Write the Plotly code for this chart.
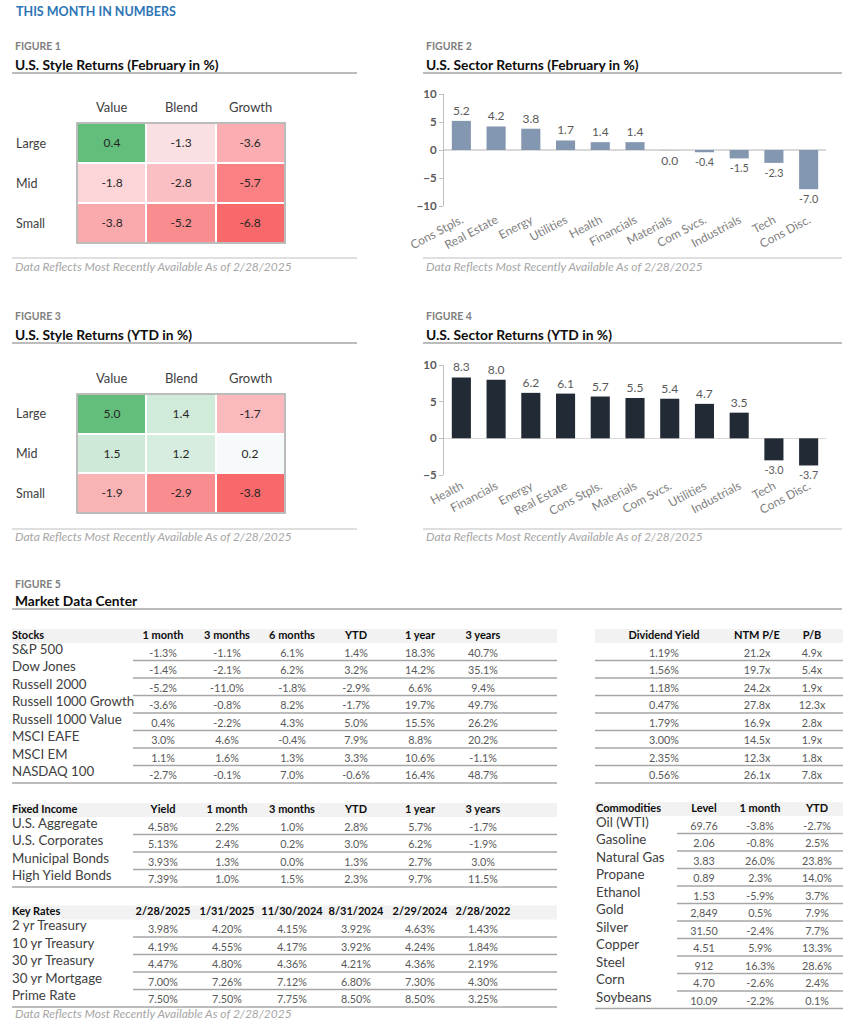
import plotly.graph_objects as go

W, H = 855, 1024
OFF = 0
FONT = "Lato"

# ---------------- data ----------------
style_cols = ["Value", "Blend", "Growth"]
style_rows = ["Large", "Mid", "Small"]
style_feb = [[0.4, -1.3, -3.6], [-1.8, -2.8, -5.7], [-3.8, -5.2, -6.8]]
style_ytd = [[5.0, 1.4, -1.7], [1.5, 1.2, 0.2], [-1.9, -2.9, -3.8]]

sectors_feb = ["Cons Stpls.", "Real Estate", "Energy", "Utilities", "Health", "Financials",
               "Materials", "Com Svcs.", "Industrials", "Tech", "Cons Disc."]
sector_feb_vals = [5.2, 4.2, 3.8, 1.7, 1.4, 1.4, -0.04, -0.4, -1.5, -2.3, -7.0]

sectors_ytd = ["Health", "Financials", "Energy", "Real Estate", "Cons Stpls.", "Materials",
               "Com Svcs.", "Utilities", "Industrials", "Tech", "Cons Disc."]
sector_ytd_vals = [8.3, 8.0, 6.2, 6.1, 5.7, 5.5, 5.4, 4.7, 3.5, -3.0, -3.7]

stock_names = ["S&P 500", "Dow Jones", "Russell 2000", "Russell 1000 Growth",
               "Russell 1000 Value", "MSCI EAFE", "MSCI EM", "NASDAQ 100"]
stock_cols = ["1 month", "3 months", "6 months", "YTD", "1 year", "3 years"]
stock_1m = [-1.3, -1.4, -5.2, -3.6, 0.4, 3.0, 1.1, -2.7]
stock_3m = [-1.1, -2.1, -11.0, -0.8, -2.2, 4.6, 1.6, -0.1]
stock_6m = [6.1, 6.2, -1.8, 8.2, 4.3, -0.4, 1.3, 7.0]
stock_ytd = [1.4, 3.2, -2.9, -1.7, 5.0, 7.9, 3.3, -0.6]
stock_1y = [18.3, 14.2, 6.6, 19.7, 15.5, 8.8, 10.6, 16.4]
stock_3y = [40.7, 35.1, 9.4, 49.7, 26.2, 20.2, -1.1, 48.7]

val_cols = ["Dividend Yield", "NTM P/E", "P/B"]
div_yield = [1.19, 1.56, 1.18, 0.47, 1.79, 3.00, 2.35, 0.56]
ntm_pe = [21.2, 19.7, 24.2, 27.8, 16.9, 14.5, 12.3, 26.1]
p_b = [4.9, 5.4, 1.9, 12.3, 2.8, 1.9, 1.8, 7.8]

fi_names = ["U.S. Aggregate", "U.S. Corporates", "Municipal Bonds", "High Yield Bonds"]
fi_cols = ["Yield", "1 month", "3 months", "YTD", "1 year", "3 years"]
fi_yield = [4.58, 5.13, 3.93, 7.39]
fi_1m = [2.2, 2.4, 1.3, 1.0]
fi_3m = [1.0, 0.2, 0.0, 1.5]
fi_ytd = [2.8, 3.0, 1.3, 2.3]
fi_1y = [5.7, 6.2, 2.7, 9.7]
fi_3y = [-1.7, -1.9, 3.0, 11.5]

rate_names = ["2 yr Treasury", "10 yr Treasury", "30 yr Treasury", "30 yr Mortgage", "Prime Rate"]
rate_dates = ["2/28/2025", "1/31/2025", "11/30/2024", "8/31/2024", "2/29/2024", "2/28/2022"]
rate_2y = [3.98, 4.20, 4.15, 3.92, 4.63, 1.43]
rate_10y = [4.19, 4.55, 4.17, 3.92, 4.24, 1.84]
rate_30y = [4.47, 4.80, 4.36, 4.21, 4.36, 2.19]
rate_mort = [7.00, 7.26, 7.12, 6.80, 7.30, 4.30]
rate_prime = [7.50, 7.50, 7.75, 8.50, 8.50, 3.25]

comm_names = ["Oil (WTI)", "Gasoline", "Natural Gas", "Propane", "Ethanol", "Gold",
              "Silver", "Copper", "Steel", "Corn", "Soybeans"]
comm_cols = ["Level", "1 month", "YTD"]
comm_level = [69.76, 2.06, 3.83, 0.89, 1.53, 2849, 31.50, 4.51, 912, 4.70, 10.09]
comm_1m = [-3.8, -0.8, 26.0, 2.3, -5.9, 0.5, -2.4, 5.9, 16.3, -2.6, -2.2]
comm_ytd = [-2.7, 2.5, 23.8, 14.0, 3.7, 7.9, 7.7, 13.3, 28.6, 2.4, 0.1]

FOOTNOTE = "Data Reflects Most Recently Available As of 2/28/2025"

# ---------------- helpers ----------------
def px(x):
    return (x - OFF) / W

def py(y):
    return 1 - (y - OFF) / H

def fmt1(v):
    s = f"{v:.1f}"
    return "0.0" if s == "-0.0" else s

def pct1(v):
    return f"{v:.1f}%"

def pct2(v):
    return f"{v:.2f}%"

def mult(v):
    return f"{v:.1f}x"

def level(v):
    return f"{v:,.0f}" if v >= 100 else f"{v:.2f}"

RED, WHITE, GREEN = "#F8696B", "#FCFCFF", "#63BE7B"

def colorscale_for(z):
    flat = [v for row in z for v in row]
    lo, hi = min(flat), max(flat)
    mid = (0 - lo) / (hi - lo)
    return [[0, RED], [mid, WHITE], [1, GREEN]], lo, hi

fig = go.Figure()
annotations = []
shapes = []

def text(t, x, y, size=11, color="#404040", bold=False, italic=False, anchor="left"):
    annotations.append(dict(
        text=t, x=px(x), y=py(y), xref="paper", yref="paper",
        xanchor=anchor, yanchor="middle", showarrow=False,
        font=dict(family=FONT, size=size, color=color,
                  weight="bold" if bold else "normal",
                  style="italic" if italic else "normal")))

def hline(x0, x1, y, color="#a6a6a6", width=1.2):
    shapes.append(dict(type="line", xref="paper", yref="paper",
                       x0=px(x0), x1=px(x1), y0=py(y), y1=py(y),
                       line=dict(color=color, width=width)))

def band(x0, x1, y0, y1, color="#f2f2f2"):
    shapes.append(dict(type="rect", xref="paper", yref="paper",
                       x0=px(x0), x1=px(x1), y0=py(y1), y1=py(y0),
                       fillcolor=color, line=dict(width=0), layer="below"))

# ---------------- header & section titles ----------------
text("THIS MONTH IN NUMBERS", 14, 11, size=12.5, color="#2E75B6", bold=True)

def section(num, title, x0, x1, y_fig, y_title, y_line):
    text(f"FIGURE {num}", x0 + 1, y_fig, size=10.5, color="#808080", bold=True)
    text(title, x0 + 1, y_title, size=13.8, color="#0d0d0d", bold=True)
    hline(x0, x1, y_line, color="#a6a6a6", width=1.5)

def footnote(x0, x1, y_line, y_text):
    hline(x0, x1, y_line, color="#bfbfbf", width=1.2)
    text(FOOTNOTE, x0 + 1, y_text, size=12, color="#a6a6a6", italic=True)

section(1, "U.S. Style Returns (February in %)", 12, 357, 46, 64, 73)
section(2, "U.S. Sector Returns (February in %)", 423, 842, 46, 64, 73)
section(3, "U.S. Style Returns (YTD in %)", 12, 357, 316, 334, 343)
section(4, "U.S. Sector Returns (YTD in %)", 423, 842, 316, 334, 343)
section(5, "Market Data Center", 12, 842, 584, 600, 609)

footnote(12, 357, 258, 266)
footnote(423, 842, 258, 266)
footnote(12, 357, 529, 536)
footnote(423, 842, 529, 536)

# ---------------- heatmaps ----------------
def heatmap(z, xa, ya, top, bottom):
    cs, lo, hi = colorscale_for(z)
    fig.add_trace(go.Heatmap(
        z=z, x=style_cols, y=style_rows, xaxis=xa, yaxis=ya,
        colorscale=cs, zmin=lo, zmax=hi, showscale=False,
        xgap=2, ygap=2, texttemplate="%{z:.1f}",
        textfont=dict(family=FONT, size=12, color="#262626"),
        hoverinfo="skip"))
    axid = xa.replace("x", "")
    dom_x = [px(77), px(285)]
    dom_y = [py(bottom), py(top)]
    fig.layout["xaxis" + axid] = dict(domain=dom_x, anchor=ya, showticklabels=False,
                                      showgrid=False, zeroline=False, fixedrange=True,
                                      automargin=False, ticks="")
    fig.layout["yaxis" + axid] = dict(domain=dom_y, anchor=xa, showticklabels=False,
                                      showgrid=False, zeroline=False, autorange="reversed",
                                      fixedrange=True, automargin=False, ticks="")
    shapes.append(dict(type="rect", xref=xa + " domain", yref=ya + " domain",
                       x0=0, x1=1, y0=0, y1=1, line=dict(color="#a6a6a6", width=1.5)))
    for c in style_cols:
        annotations.append(dict(text=c, x=c, xref=xa, y=py(top - 16), yref="paper",
                                showarrow=False, xanchor="center", yanchor="middle",
                                font=dict(family=FONT, size=13, color="#404040")))
    for r in style_rows:
        annotations.append(dict(text=r, x=px(14), xref="paper", y=r, yref=ya,
                                showarrow=False, xanchor="left", yanchor="middle",
                                font=dict(family=FONT, size=12.5, color="#404040")))

heatmap(style_feb, "x", "y", 123, 243)
heatmap(style_ytd, "x2", "y2", 394, 513)

# ---------------- bar charts ----------------
def bars(cats, vals, color, xa, ya, top, bottom, yrange, standoff):
    axid = xa.replace("x", "")
    fig.add_trace(go.Bar(
        x=cats, y=vals, xaxis=xa, yaxis=ya, marker=dict(color=color, line=dict(width=0)),
        text=[fmt1(v) for v in vals], textposition="outside", cliponaxis=False,
        textfont=dict(family=FONT, size=12, color="#595959"), hoverinfo="skip"))
    fig.layout["xaxis" + axid] = dict(
        domain=[px(444), px(826)], anchor=ya, showgrid=False, zeroline=False,
        showline=False, tickangle=-28, ticks="", ticklabelstandoff=standoff,
        automargin=False,
        tickfont=dict(family=FONT, size=12, color="#808080"), fixedrange=True)
    fig.layout["yaxis" + axid] = dict(
        domain=[py(bottom), py(top)], anchor=xa, range=yrange, dtick=5,
        showgrid=False, zeroline=True, zerolinecolor="#d9d9d9", zerolinewidth=1.5,
        showline=True, linecolor="#bfbfbf", linewidth=1, ticks="outside", ticklen=4,
        automargin=False,
        tickcolor="#bfbfbf", tickfont=dict(family=FONT, size=11.5, color="#595959",
                                           weight="bold"), fixedrange=True)

bars(sectors_feb, sector_feb_vals, "#8497B0", "x3", "y3", 94, 206, [-10, 10], 4)
bars(sectors_ytd, sector_ytd_vals, "#222A35", "x4", "y4", 365, 475, [-5, 10], 1)

# ---------------- tables ----------------
# overlay axis in page pixel units used to place table text
fig.layout["xaxis5"] = dict(domain=[0, 1], range=[OFF, W + OFF], anchor="y5", visible=False,
                            fixedrange=True, automargin=False)
fig.layout["yaxis5"] = dict(domain=[0, 1], range=[H + OFF, OFF], anchor="x5", visible=False,
                            fixedrange=True, automargin=False)

ROW_H = 17.5
LABEL_C = "#404040"
VAL_C = "#595959"

def col_text(xs, ys, texts, pos="middle center", size=10.8, color=VAL_C, bold=False):
    fig.add_trace(go.Scatter(
        x=xs, y=ys, text=texts, mode="text", textposition=pos, xaxis="x5", yaxis="y5",
        textfont=dict(family=FONT, size=size, color=color,
                      weight="bold" if bold else "normal"),
        hoverinfo="skip", showlegend=False, cliponaxis=False))

def table(head_y, title, names, col_heads, columns, formatters, centers,
          left, right, line_start, label_x=None):
    n = len(columns[0])
    band(left, right, head_y - 7, head_y + 7)
    if title is not None:
        col_text([label_x], [head_y], [title], pos="middle right", size=11, color="#0d0d0d",
                 bold=True)
    col_text(centers, [head_y] * len(centers), col_heads, size=11, color="#0d0d0d", bold=True)
    rows_y = [head_y + 18 + ROW_H * i for i in range(n)]
    if names is not None:
        col_text([label_x] * n, [y - 3.5 for y in rows_y], names, pos="middle right",
                 size=13.3, color=LABEL_C)
    for cx, col, f in zip(centers, columns, formatters):
        col_text([cx] * n, rows_y, [f(v) for v in col])
    for i, y in enumerate(rows_y):
        x0 = left if i == n - 1 else line_start
        hline(x0, right, y + 6.5, color="#a6a6a6", width=1.3)

num_centers = [163, 227, 292, 356, 420, 483]
TBL_R = 557

table(636, "Stocks", stock_names, stock_cols,
      [stock_1m, stock_3m, stock_6m, stock_ytd, stock_1y, stock_3y], [pct1] * 6,
      num_centers, 12, TBL_R, 133, label_x=12)
table(636, None, None, val_cols, [div_yield, ntm_pe, p_b], [pct2, mult, mult],
      [664, 757, 812], 595, 843, 595)
table(810, "Fixed Income", fi_names, fi_cols,
      [fi_yield, fi_1m, fi_3m, fi_ytd, fi_1y, fi_3y], [pct2] + [pct1] * 5,
      num_centers, 12, TBL_R, 133, label_x=12)
table(912.5, "Key Rates", rate_names, rate_dates,
      [list(c) for c in zip(rate_2y, rate_10y, rate_30y, rate_mort, rate_prime)], [pct2] * 6,
      num_centers, 12, TBL_R, 133, label_x=12)
table(809, "Commodities", comm_names, comm_cols, [comm_level, comm_1m, comm_ytd],
      [level, pct1, pct1], [704, 760, 817], 595, 843, 677, label_x=596)

text(FOOTNOTE, 13, 1013, size=12, color="#a6a6a6", italic=True)

fig.update_layout(
    template="none",
    width=W, height=H, margin=dict(l=0, r=0, t=0, b=0, pad=0, autoexpand=False),
    paper_bgcolor="white", plot_bgcolor="rgba(0,0,0,0)",
    showlegend=False, bargap=0.45,
    font=dict(family=FONT, color="#404040"),
    annotations=annotations, shapes=shapes)

fig.write_html("out.html",
               config={"displayModeBar": False, "staticPlot": True},
               post_script="document.body.style.margin='0px';"
                           "document.body.style.overflow='hidden';")
